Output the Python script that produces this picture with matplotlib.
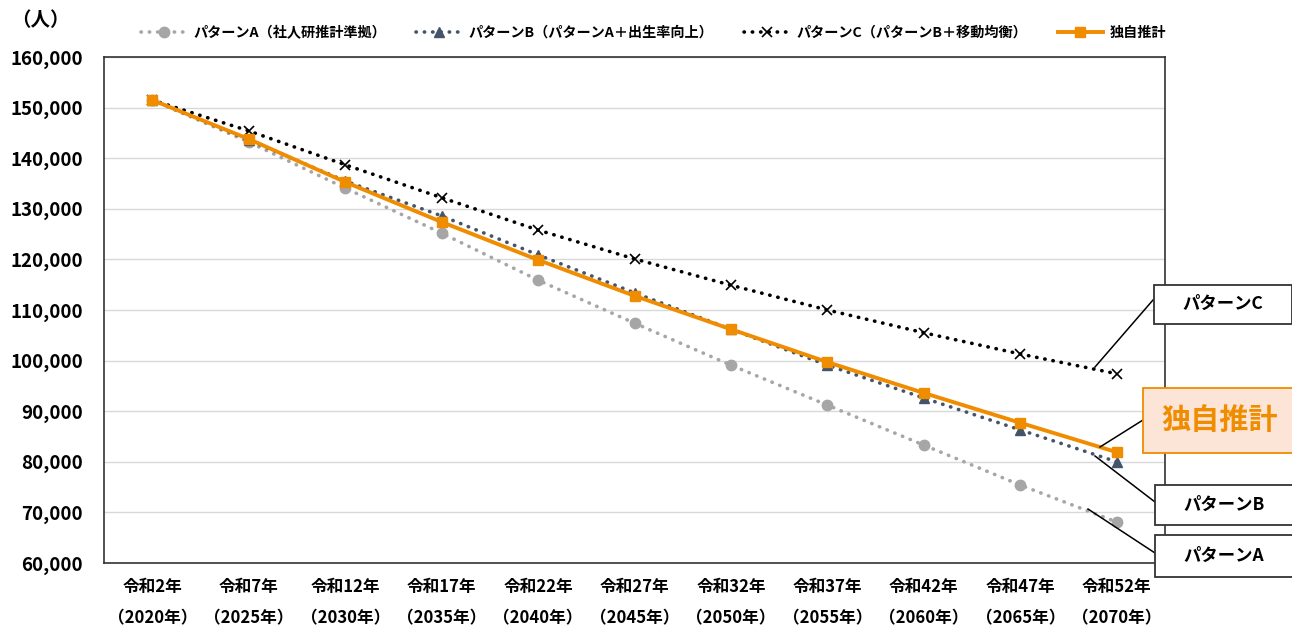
import matplotlib
matplotlib.use("Agg")
import matplotlib.pyplot as plt
from matplotlib.ticker import FuncFormatter, MultipleLocator

plt.rcParams['font.family'] = ['Noto Sans CJK JP', 'DejaVu Sans']

categories = ["令和2年\n（2020年）", "令和7年\n（2025年）", "令和12年\n（2030年）", "令和17年\n（2035年）",
              "令和22年\n（2040年）", "令和27年\n（2045年）", "令和32年\n（2050年）", "令和37年\n（2055年）",
              "令和42年\n（2060年）", "令和47年\n（2065年）", "令和52年\n（2070年）"]
pattern_a = [151500, 143200, 134100, 125200, 115900, 107400, 99100, 91200, 83300, 75400, 68100]
pattern_b = [151500, 143600, 135500, 128600, 120900, 113400, 106200, 99100, 92600, 86300, 80000]
pattern_c = [151500, 145400, 138700, 132200, 125800, 120100, 114900, 110000, 105500, 101300, 97400]
dokuji = [151500, 143800, 135300, 127400, 119900, 112800, 106200, 99700, 93600, 87700, 81900]
labels = ["パターンA（社人研推計準拠）", "パターンB（パターンA＋出生率向上）",
          "パターンC（パターンB＋移動均衡）", "独自推計"]

W, H = 1292, 629
fig = plt.figure(figsize=(W / 100, H / 100), dpi=100)
ax = fig.add_axes([104 / W, 1 - 563 / H, (1165 - 104) / W, (563 - 57) / H])

x = list(range(len(categories)))
dot = (0, (0.1, 2.2))
la, = ax.plot(x, pattern_a, color='#A6A6A6', lw=2.6, ls=dot, dash_capstyle='round',
              marker='o', ms=7.5, zorder=3)
lb, = ax.plot(x, pattern_b, color='#44546A', lw=2.6, ls=dot, dash_capstyle='round',
              marker='^', ms=7, zorder=4)
lc, = ax.plot(x, pattern_c, color='#000000', lw=2.6, ls=dot, dash_capstyle='round',
              marker='x', ms=7, mew=1.2, zorder=5)
ld, = ax.plot(x, dokuji, color='#F08C00', lw=2.8, ls='-', marker='s', ms=7, zorder=6)

ax.set_xlim(-0.5, len(categories) - 0.5)
ax.set_ylim(60000, 160000)
ax.yaxis.set_major_locator(MultipleLocator(10000))
ax.yaxis.set_major_formatter(FuncFormatter(lambda v, p: f"{int(v):,}"))
ax.set_xticks(x)
ax.set_xticklabels(categories, fontsize=12, fontweight='bold', linespacing=1.95)
for t in ax.get_yticklabels():
    t.set_fontsize(13.5)
    t.set_fontweight('bold')
ax.tick_params(axis='both', length=0)
ax.tick_params(axis='x', pad=11)
ax.tick_params(axis='y', pad=15)
ax.grid(axis='y', color='#D9D9D9', lw=1)
ax.set_axisbelow(True)
for s in ax.spines.values():
    s.set_color('#333333')
    s.set_linewidth(1.2)

fig.text(40 / W, 1 - 21 / H, "（人）", fontsize=14, fontweight='bold', ha='center', va='center')

leg = fig.legend([la, lb, lc, ld], labels, loc='center', bbox_to_anchor=(0.506, 1 - 33 / H),
                 ncol=4, frameon=False, fontsize=10.2, handlelength=3.2, columnspacing=2.15,
                 handletextpad=0.5)
for t in leg.get_texts():
    t.set_fontweight('bold')

# annotation boxes
def box(xc, yc, text, w, h, fc='white', ec='#333333', color='black', fs=12.5):
    fig.text(xc / W, 1 - yc / H, text, ha='center', va='center', fontsize=fs, fontweight='bold',
             color=color, zorder=10)
    rect = plt.Rectangle(((xc - w / 2) / W, 1 - (yc + h / 2) / H), w / W, h / H,
                         transform=fig.transFigure, fc=fc, ec=ec, lw=1.3, zorder=9)
    fig.add_artist(rect)

def leader(x0, y0, x1, y1):
    fig.add_artist(plt.Line2D([x0 / W, x1 / W], [1 - y0 / H, 1 - y1 / H], color='black',
                              lw=1.1, transform=fig.transFigure, zorder=8))

leader(1095, 367, 1153, 300)
leader(1100, 447, 1143, 420)
leader(1095, 456, 1155, 502)
leader(1088, 509, 1155, 553)
box(1223, 304, "パターンC", 138, 39)
box(1220, 420, "独自推計", 154, 65, fc='#FCE4D6', ec='#F08C00', color='#F08C00', fs=21)
box(1224, 505, "パターンB", 138, 40)
box(1224, 556, "パターンA", 138, 42)

fig.savefig("out.png", dpi=100)
